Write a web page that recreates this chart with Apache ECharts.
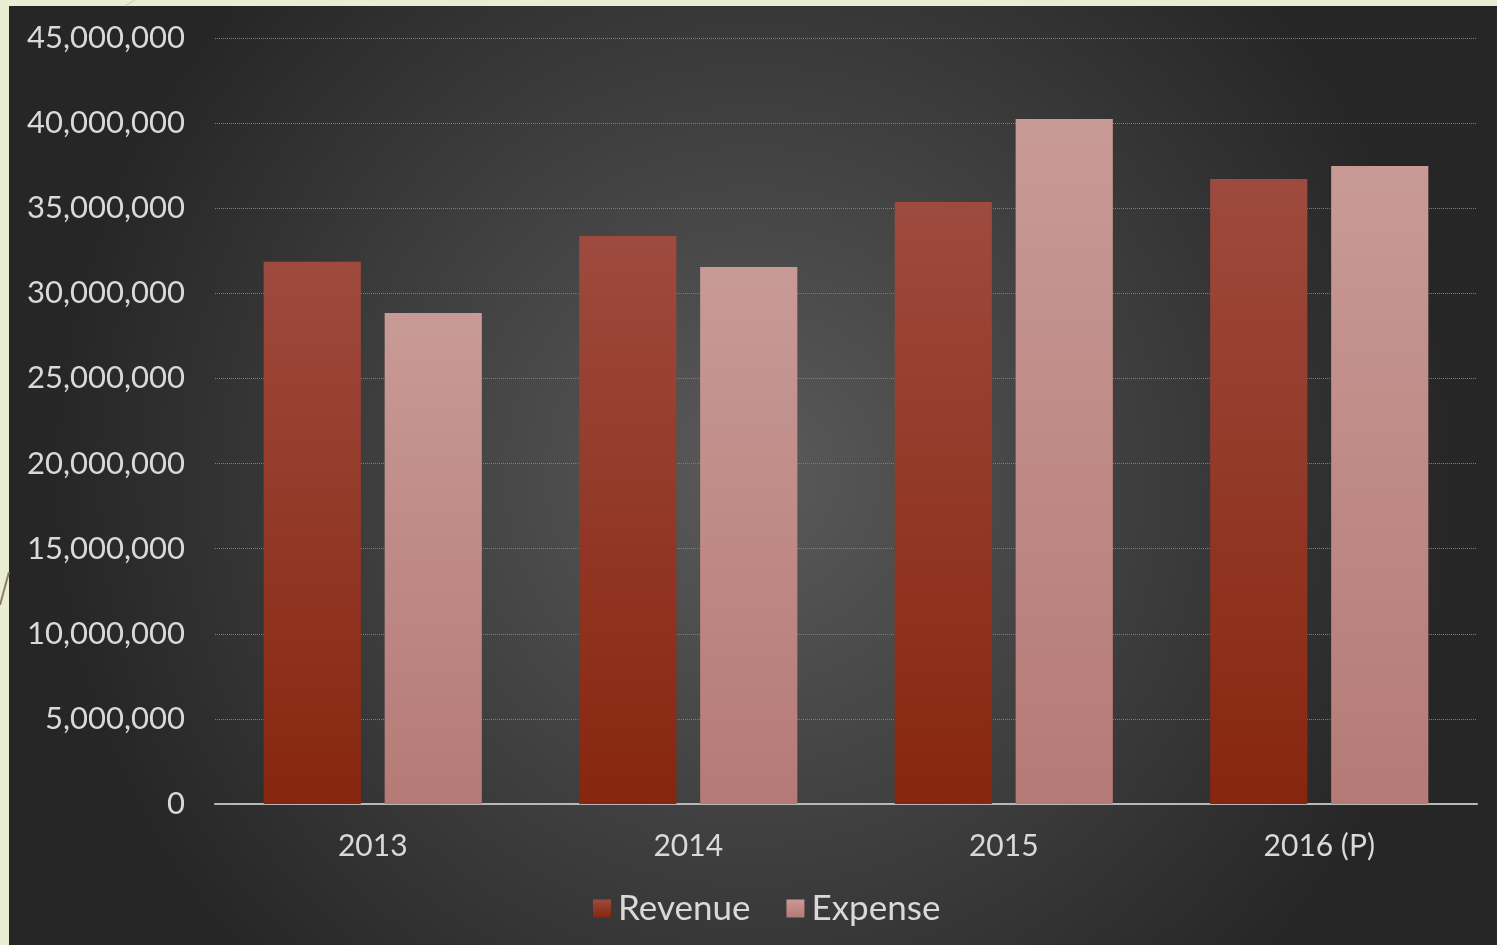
<!DOCTYPE html>
<html><head><meta charset="utf-8">
<style>html,body{margin:0;padding:0;background:#e8edd4;}#c{width:1497px;height:945px;}</style>
<script src="https://cdn.jsdelivr.net/npm/echarts@6/dist/echarts.min.js"></script>
</head><body><div id="c"></div>
<script>
const categories = ['2013', '2014', '2015', '2016 (P)'];
const revenue = [31850000, 33370000, 35370000, 36720000];
const expense = [28850000, 31550000, 40240000, 37480000];
const yTicks = [0, 5000000, 10000000, 15000000, 20000000, 25000000, 30000000, 35000000, 40000000, 45000000];

const chart = echarts.init(document.getElementById('c'));
const font = 'Lato, "Noto Sans", sans-serif';
function grad(top, bottom){
  return new echarts.graphic.LinearGradient(0,0,0,1,[{offset:0,color:top},{offset:1,color:bottom}]);
}
chart.setOption({
  backgroundColor: '#e8edd4',
  graphic: [
    {type:'rect', z:-10, silent:true, shape:{x:9,y:6,width:1488,height:939},
     style:{fill:new echarts.graphic.RadialGradient(0.5,0.5,0.75,[{offset:0,color:'#5a5a5a'},{offset:1,color:'#262626'}])}},
    {type:'line', z:-9, silent:true, shape:{x1:0,y1:605,x2:9,y2:572}, style:{stroke:'#8a8060',lineWidth:2}},
    {type:'line', z:-9, silent:true, shape:{x1:125,y1:6,x2:135,y2:0}, style:{stroke:'#c8c8b0',lineWidth:1}}
  ],
  grid: {left:215, right:20, top:38, bottom:141, containLabel:false},
  legend: {
    bottom: 14, left: 588, itemWidth: 18, itemHeight: 18, itemGap: 36,
    icon: 'rect',
    textStyle: {color:'#d9d9d9', fontSize:35, fontFamily:font, padding:[0,0,0,2]},
    data: ['Revenue','Expense']
  },
  xAxis: {
    type:'category', data: categories,
    axisLine:{show:true, lineStyle:{color:'#b8b8b8', width:2}},
    axisTick:{show:false},
    axisLabel:{color:'#d9d9d9', fontSize:30, fontFamily:font, margin:27}
  },
  yAxis: {
    type:'value', min:0, max:45000000, interval:5000000,
    axisLine:{show:false}, axisTick:{show:false},
    axisLabel:{color:'#d9d9d9', fontSize:31, fontFamily:font, margin:30,
      formatter: v => yTicks.includes(v) ? v.toLocaleString('en-US') : ''},
    splitLine:{lineStyle:{color:'#7e7e7e', type:'dotted', width:1}}
  },
  series: [
    {name:'Revenue', type:'bar', data: revenue, barWidth:'30.8%', barGap:'24.5%',
     itemStyle:{color:grad('#9e4a3e','#87260f'), shadowBlur:8, shadowColor:'rgba(0,0,0,0.45)', shadowOffsetX:2, shadowOffsetY:2}},
    {name:'Expense', type:'bar', data: expense, barWidth:'30.8%',
     itemStyle:{color:grad('#c89a96','#b57a76'), shadowBlur:8, shadowColor:'rgba(0,0,0,0.45)', shadowOffsetX:2, shadowOffsetY:2}}
  ]
});
</script></body></html>
